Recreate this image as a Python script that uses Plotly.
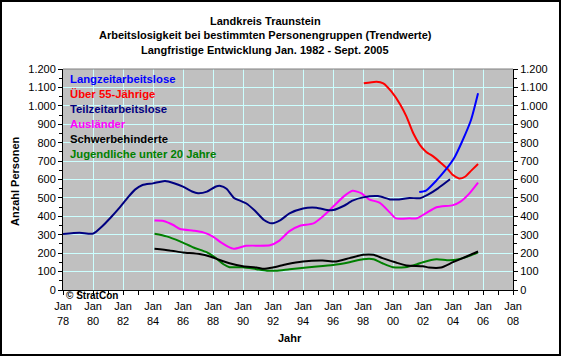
import plotly.graph_objects as go

# ---------------- data ----------------
teilzeit_x = [1978.0, 1979.1, 1980.0, 1980.6, 1981.2, 1981.8, 1982.3, 1982.8, 1983.3, 1984.0, 1984.8,
              1985.4, 1986.0, 1986.6, 1987.0, 1987.6, 1988.2, 1988.5, 1988.9, 1989.4, 1989.8, 1990.2,
              1990.8, 1991.4, 1991.9, 1992.5, 1993.1, 1994.0, 1994.9, 1995.6, 1996.0, 1996.7, 1997.3,
              1998.0, 1999.0, 1999.8, 2000.4, 2001.1, 2001.8, 2002.3, 2003.0, 2003.8]
teilzeit_y = [304, 311, 306, 345, 395, 450, 500, 545, 570, 579, 592,
              580, 561, 535, 525, 534, 562, 565, 550, 500, 485, 471,
              430, 380, 362, 380, 416, 443, 447, 434, 434, 456, 485,
              503, 510, 492, 492, 500, 498, 516, 552, 601]

langzeit_x = [2001.75, 2002.2, 2002.9, 2003.5, 2004.1, 2004.6, 2005.2, 2005.67]
langzeit_y = [532, 540, 595, 652, 720, 805, 923, 1068]

ueber55_x = [1998.05, 1998.9, 1999.35, 1999.9, 2000.5, 2000.9, 2001.35, 2001.8, 2002.2, 2002.7,
             2003.1, 2003.6, 2004.0, 2004.4, 2004.8, 2005.25, 2005.67]
ueber55_y = [1122, 1131, 1122, 1077, 1005, 941, 851, 787, 751, 724,
             697, 661, 624, 606, 615, 651, 684]

auslaender_x = [1984.1, 1984.7, 1985.35, 1985.8, 1986.7, 1987.35, 1988.0, 1988.5, 1989.0, 1989.4,
                1990.2, 1991.8, 1992.4, 1993.1, 1993.8, 1994.7, 1995.3, 1996.0, 1996.7, 1997.3,
                1997.9, 1998.4, 1999.1, 1999.8, 2000.2, 2001.1, 2001.6, 2002.2, 2002.9, 2004.0,
                2004.5, 2005.1, 2005.67]
auslaender_y = [377, 375, 353, 331, 322, 313, 290, 260, 236, 224,
                240, 243, 267, 320, 349, 362, 398, 452, 507, 539,
                525, 492, 474, 420, 389, 389, 390, 417, 449, 461,
                480, 525, 583]

schwer_x = [1984.1, 1985.1, 1986.0, 1987.1, 1987.8, 1988.4, 1989.1, 1990.0, 1990.9, 1991.3,
            1992.0, 1992.9, 1994.0, 1995.3, 1996.2, 1997.1, 1998.0, 1998.7, 1999.3, 2000.2,
            2000.9, 2002.0, 2002.4, 2003.2, 2004.0, 2004.9, 2005.67]
schwer_y = [224, 215, 204, 195, 182, 164, 145, 129, 122, 115,
            122, 140, 155, 160, 155, 173, 191, 191, 173, 149,
            133, 129, 122, 122, 151, 182, 209]

jugend_x = [1984.1, 1984.9, 1985.8, 1986.7, 1987.6, 1988.2, 1988.7, 1989.1, 1990.0, 1990.9,
            1991.6, 1992.2, 1993.1, 1994.4, 1996.0, 1997.1, 1998.0, 1998.7, 1999.3, 2000.0,
            2000.8, 2001.6, 2002.0, 2002.9, 2003.6, 2004.2, 2005.1, 2005.67]
jugend_y = [305, 291, 264, 231, 204, 173, 140, 124, 124, 113,
            105, 105, 113, 124, 136, 151, 167, 167, 145, 124,
            124, 140, 151, 167, 162, 164, 185, 205]

series_names = ["Langzeitarbeitslose", "Über 55-Jährige", "Teilzeitarbeitslose",
                "Ausländer", "Schwerbehinderte", "Jugendliche unter 20 Jahre"]
series_colors = ["#0000FF", "#FF0000", "#000080", "#FF00FF", "#000000", "#008000"]

x_tick_vals = [1978, 1980, 1982, 1984, 1986, 1988, 1990, 1992, 1994, 1996, 1998, 2000, 2002, 2004, 2006, 2008]
x_tick_text = ["Jan<br>78", "Jan<br>80", "Jan<br>82", "Jan<br>84", "Jan<br>86", "Jan<br>88", "Jan<br>90",
               "Jan<br>92", "Jan<br>94", "Jan<br>96", "Jan<br>98", "Jan<br>00", "Jan<br>02", "Jan<br>04",
               "Jan<br>06", "Jan<br>08"]
y_tick_vals = [0, 100, 200, 300, 400, 500, 600, 700, 800, 900, 1000, 1100, 1200]
y_tick_text = ["0", "100", "200", "300", "400", "500", "600", "700", "800", "900", "1.000", "1.100", "1.200"]

title_lines = ["Landkreis Traunstein",
               "Arbeitslosigkeit bei bestimmten Personengruppen (Trendwerte)",
               "Langfristige Entwicklung Jan. 1982 - Sept. 2005"]

# ---------------- layout constants ----------------
W, H = 561, 356
L, R, T, B = 63, 48, 69, 66
PW, PH = W - L - R, H - T - B
FONT = "Liberation Sans, Arial, sans-serif"


def px_x(p):
    return (p - L) / PW


def px_y(p):
    return (H - B - p) / PH


fig = go.Figure()

data = {
    "Jugendliche unter 20 Jahre": (jugend_x, jugend_y),
    "Schwerbehinderte": (schwer_x, schwer_y),
    "Ausländer": (auslaender_x, auslaender_y),
    "Teilzeitarbeitslose": (teilzeit_x, teilzeit_y),
    "Über 55-Jährige": (ueber55_x, ueber55_y),
    "Langzeitarbeitslose": (langzeit_x, langzeit_y),
}
for name in data:
    xs, ys = data[name]
    col = series_colors[series_names.index(name)]
    fig.add_trace(go.Scatter(
        x=xs, y=ys, mode="lines", name=name,
        line=dict(color=col, width=2, shape="spline", smoothing=0.6),
        yaxis="y2" if name == "Langzeitarbeitslose" else "y",
        showlegend=False, hoverinfo="skip"))

axis_common = dict(
    showline=True, linecolor="black", linewidth=1,
    ticks="outside", ticklen=4, tickcolor="black", tickwidth=1,
    tickfont=dict(family=FONT, size=11, color="black"),
    zeroline=False, fixedrange=True,
)

fig.update_layout(
    width=W, height=H,
    margin=dict(l=L, r=R, t=T, b=B, pad=0),
    paper_bgcolor="white", plot_bgcolor="#C0C0C0",
    font=dict(family=FONT, size=11, color="black"),
    xaxis=dict(range=[1978, 2008], tickmode="array", tickvals=x_tick_vals, ticktext=x_tick_text,
               showgrid=True, gridcolor="#CCFFFF", gridwidth=1, ticklabelstandoff=2,
               minor=dict(tickmode="linear", tick0=1978, dtick=1, ticks="outside", ticklen=4,
                          tickcolor="black", showgrid=False),
               **axis_common),
    yaxis=dict(range=[0, 1200], tickmode="array", tickvals=y_tick_vals, ticktext=y_tick_text,
               showgrid=True, gridcolor="#CCFFFF", gridwidth=1,
               minor=dict(tickmode="linear", tick0=0, dtick=50, ticks="outside", ticklen=3,
                          tickcolor="black", showgrid=False),
               **axis_common),
    yaxis2=dict(range=[0, 1200], overlaying="y", side="right", tickmode="array",
                tickvals=y_tick_vals, ticktext=y_tick_text, showgrid=False,
                minor=dict(tickmode="linear", tick0=0, dtick=50, ticks="outside", ticklen=3,
                           tickcolor="black", showgrid=False),
                **axis_common),
)

annotations = []
# titles
for i, (txt, yp) in enumerate(zip(title_lines, [21, 35, 49.5])):
    annotations.append(dict(text="<b>%s</b>" % txt, x=px_x(265), y=px_y(yp), xref="paper", yref="paper",
                            xanchor="center", yanchor="middle", showarrow=False,
                            font=dict(family=FONT, size=11, color="black")))
# legend-like text
for i, (nm, col) in enumerate(zip(series_names, series_colors)):
    annotations.append(dict(text="<b>%s</b>" % nm, x=px_x(68), y=px_y(79 + 15 * i), xref="paper", yref="paper",
                            xanchor="left", yanchor="middle", showarrow=False,
                            font=dict(family=FONT, size=11.3, color=col)))
# axis titles
annotations.append(dict(text="<b>Jahr</b>", x=px_x(290), y=px_y(338), xref="paper", yref="paper",
                        xanchor="center", yanchor="middle", showarrow=False,
                        font=dict(family=FONT, size=11, color="black")))
annotations.append(dict(text="<b>Anzahl Personen</b>", x=px_x(15), y=px_y(181), xref="paper", yref="paper",
                        xanchor="center", yanchor="middle", showarrow=False, textangle=-90,
                        font=dict(family=FONT, size=11, color="black")))
annotations.append(dict(text="<b>© StratCon</b>", x=px_x(64), y=px_y(295), xref="paper", yref="paper",
                        xanchor="left", yanchor="middle", showarrow=False,
                        font=dict(family=FONT, size=10, color="black")))
fig.update_layout(annotations=annotations)

shapes = [
    # top border of plot area (gray)
    dict(type="line", xref="paper", yref="paper", x0=0, x1=1, y0=1, y1=1,
         line=dict(color="#808080", width=1)),
    # outer chart border
    dict(type="rect", xref="paper", yref="paper",
         x0=px_x(1), x1=px_x(W - 1), y0=px_y(H - 1), y1=px_y(1),
         line=dict(color="black", width=2)),
]
fig.update_layout(shapes=shapes)

fig.write_html("out.html", config={"displayModeBar": False},
               post_script="document.body.style.margin='0';document.body.style.overflow='hidden';")
